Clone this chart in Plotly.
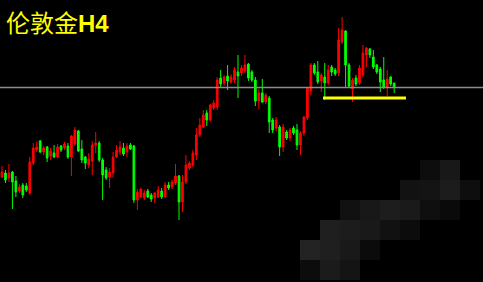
import plotly.graph_objects as go

# ---- data (London gold, H4 candles) ----
opens = [1223,1227,1222,1228,1219,1209,1215,1214,1207,1237,1250,1259,1248,1253,1244,1247,1243,1254,1252,1254,
         1243,1256,1269,1251,1243,1235,1239,1255,1257,1240,1230,1223,1227,1243,1248,1252,1248,1255,1254,1200,
         1203,1202,1209,1205,1202,1203,1209,1203,1215,1213,1217,1224,1198,1218,1232,1235,1245,1265,1273,1287,
         1280,1292,1293,1322,1317,1324,1318,1320,1328,1327,1329,1336,1328,1320,1299,1307,1298,1302,1280,1272,
         1273,1253,1268,1262,1272,1270,1255,1267,1282,1309,1335,1328,1319,1323,1317,1333,1330,1327,1358,1369,
         1335,1311,1322,1317,1325,1345,1351,1343,1335,1331,1320,1313,1323,1317]
highs = [1234,1230,1236,1229,1224,1216,1217,1217,1243,1257,1258,1260,1254,1254,1252,1255,1256,1255,1258,1257,
         1265,1273,1270,1260,1244,1247,1259,1268,1259,1242,1233,1232,1248,1255,1259,1257,1257,1257,1255,1211,
         1212,1210,1211,1207,1208,1214,1212,1218,1218,1220,1236,1225,1225,1245,1239,1250,1272,1282,1290,1290,
         1296,1300,1323,1330,1325,1335,1326,1333,1345,1335,1345,1337,1330,1323,1311,1321,1307,1304,1282,1283,
         1275,1276,1270,1272,1274,1276,1269,1284,1313,1337,1337,1339,1327,1337,1335,1335,1332,1372,1383,1370,
         1337,1322,1325,1335,1355,1353,1352,1350,1336,1333,1343,1330,1324,1317]
lows = [1222,1217,1218,1191,1203,1207,1202,1208,1205,1235,1248,1247,1245,1238,1240,1242,1242,1248,1250,1241,
        1224,1254,1248,1237,1231,1232,1225,1247,1238,1200,1220,1212,1222,1242,1245,1244,1243,1250,1197,1190,
        1202,1200,1202,1198,1197,1202,1201,1202,1210,1211,1215,1180,1188,1216,1230,1233,1240,1263,1272,1274,
        1278,1290,1290,1312,1314,1310,1316,1317,1302,1324,1327,1319,1318,1294,1291,1297,1296,1267,1267,1269,
        1244,1248,1260,1259,1265,1250,1245,1264,1280,1305,1325,1316,1308,1300,1315,1324,1324,1324,1356,1312,
        1312,1298,1314,1315,1323,1333,1342,1331,1326,1308,1311,1304,1314,1307]
closes = [1228,1220,1227,1218,1208,1213,1205,1210,1238,1252,1253,1248,1252,1242,1249,1243,1253,1250,1256,1243,
          1264,1270,1249,1240,1237,1241,1255,1257,1240,1225,1222,1228,1243,1250,1253,1246,1254,1251,1200,1208,
          1211,1207,1203,1201,1207,1210,1203,1215,1212,1218,1224,1198,1218,1235,1237,1247,1265,1275,1285,1280,
          1295,1297,1320,1316,1323,1319,1323,1330,1324,1332,1335,1322,1320,1299,1307,1298,1305,1278,1270,1280,
          1253,1273,1262,1270,1267,1255,1267,1283,1312,1335,1327,1318,1325,1317,1330,1328,1326,1360,1370,1335,
          1314,1320,1316,1332,1347,1352,1345,1333,1328,1318,1313,1321,1316,1313]

reference_level = 1312.5          # grey horizontal line
support_level = 1302              # yellow support line
support_from, support_to = 92.5, 116.4   # candle-index span of the support line
title_cn = "伦敦金"
title_tf = "H4"

# obscured watermark mosaic (grey levels, None = empty)
mosaic = [
    [None, None, None, None, None, None, 13, 24, None],
    [None, None, None, None, None, 18, 20, 28, 14],
    [None, None, 17, 24, 29, 26, 15, 10, None],
    [None, 31, 28, 25, 17, 12, None, None, None],
    [35, 31, 25, 11, None, None, None, None, None],
    [12, 27, 20, None, None, None, None, None, None],
]

n = len(opens)
idx = list(range(n))

fig = go.Figure()

fig.add_trace(go.Heatmap(
    z=mosaic, x0=310, dx=20, y0=170, dy=20,
    zmin=0, zmax=255,
    colorscale=[[0, "rgb(0,0,0)"], [1, "rgb(255,255,255)"]],
    showscale=False, hoverinfo="skip", xaxis="x", yaxis="y",
))

fig.add_trace(go.Candlestick(
    x=idx, open=opens, high=highs, low=lows, close=closes,
    increasing=dict(line=dict(color="#ff0000", width=1), fillcolor="#ff0000"),
    decreasing=dict(line=dict(color="#00ff00", width=1), fillcolor="#00ff00"),
    whiskerwidth=0, hoverinfo="skip", xaxis="x2", yaxis="y2",
))

fig.add_shape(type="line", xref="paper", x0=0, x1=1, yref="y2",
              y0=reference_level, y1=reference_level,
              line=dict(color="#8c8c8c", width=1.5))
fig.add_shape(type="line", xref="x2", x0=support_from, x1=support_to, yref="y2",
              y0=support_level, y1=support_level,
              line=dict(color="#ffff00", width=3))

fig.add_annotation(
    xref="paper", yref="paper", x=0, y=1, xanchor="left", yanchor="top",
    xshift=4, yshift=-2, showarrow=False,
    text=title_cn + "<span style='font-family:Liberation Sans;font-weight:bold'>" + title_tf + "</span>",
    font=dict(family="Noto Sans CJK SC", size=24, color="#ffff00"),
)

fig.update_layout(
    width=483, height=282, margin=dict(l=0, r=0, t=0, b=0),
    paper_bgcolor="black", plot_bgcolor="black", showlegend=False,
    xaxis=dict(range=[0, 483], visible=False, showgrid=False),
    yaxis=dict(range=[282, 0], visible=False, showgrid=False),
    xaxis2=dict(range=[-0.58, 138.6], overlaying="x", visible=False, showgrid=False,
                rangeslider=dict(visible=False)),
    yaxis2=dict(range=[1118, 1400], overlaying="y", visible=False, showgrid=False),
)

fig.write_html("out.html")
